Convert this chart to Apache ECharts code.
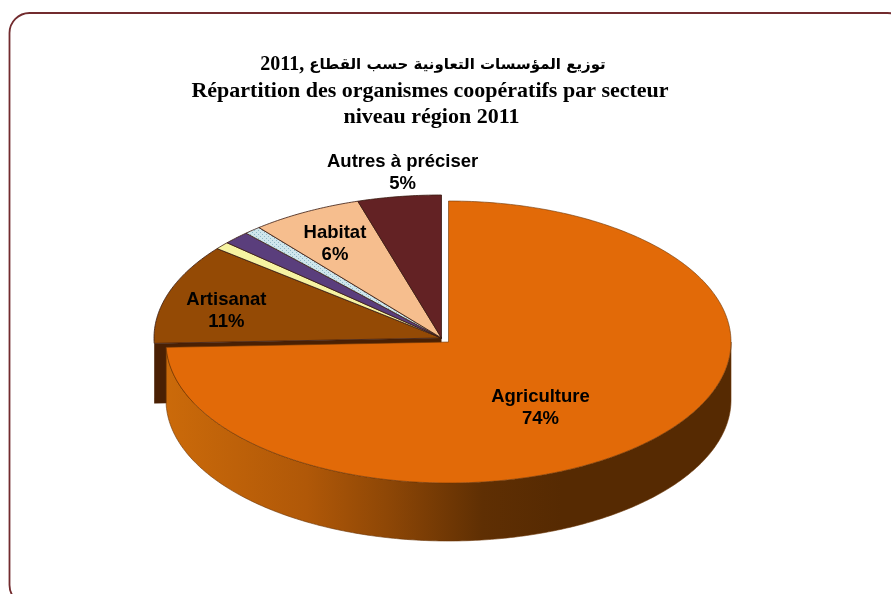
<!DOCTYPE html>
<html><head><meta charset="utf-8">
<style>html,body{margin:0;padding:0;background:#fff}#c{width:891px;height:594px}</style>
<script src="https://cdn.jsdelivr.net/npm/echarts@6/dist/echarts.min.js"></script>
</head><body><div id="c"></div>
<script>
// ---- data ----
const titleYear = '2011, ';
const titleArabic = 'توزيع المؤسسات التعاونية حسب القطاع';
const titleLine2 = 'Répartition des organismes coopératifs par secteur';
const titleLine3 = 'niveau région 2011';
const categories = ['Agriculture','Artisanat','Secteur 3','Secteur 4','Secteur 5','Habitat','Autres à préciser'];
const shares = [74.4,11.35,0.85,1.5,0.95,6.25,4.7];
const shownLabels = ['74%','11%','','','','6%','5%'];
// ---- style ----
const colors = ['#E26A08','#944A05','#F6F3A2','#5A3E7C','#CFE6EC','#F6BE8E','#632224'];
const labelFractions = [[.452,.665],[.788,.625],null,null,null,[.785,.753],[.92,1.174]];
const MAIN = {cx:448.5,cy:342,rx:282.5,ry:141,depth:58};
const REST = {cx:441.5,cy:338,rx:287.5,ry:143,depth:60};
const total = shares.reduce((a,b)=>a+b,0);
const startAngle = i => shares.slice(0,i).reduce((a,b)=>a+b,0)/total*360;
const pt = (g,deg,dy=0) => { const t=deg*Math.PI/180; return [g.cx+g.rx*Math.sin(t), g.cy-g.ry*Math.cos(t)+dy]; };
const arc = (g,a,b,dy=0) => { const n=Math.max(2,Math.ceil(Math.abs(b-a)*1.5)), out=[]; for(let k=0;k<=n;k++) out.push(pt(g,a+(b-a)*k/n,dy)); return out; };
const dots = document.createElement('canvas'); dots.width=dots.height=4;
(function(){const x=dots.getContext('2d');x.fillStyle=colors[4];x.fillRect(0,0,4,4);x.fillStyle='#8FB7C6';x.fillRect(0,0,1,1);x.fillRect(2,2,1,1);})();

function renderItem(params,api){
  const i=api.value(1), a=startAngle(i), b=a+api.value(0)/total*360;
  const g=i===0?MAIN:REST, kids=[];
  if(i===0){
    const top=arc(g,90,b), bot=arc(g,90,b,g.depth).reverse();
    kids.push({type:'polygon',z2:5,shape:{points:top.concat(bot)},style:{
      fill:{type:'linear',global:true,x:g.cx-g.rx,y:0,x2:g.cx+g.rx,y2:0,colorStops:[
        {offset:0,color:'#CB6A0A'},{offset:.25,color:'#B05808'},{offset:.4,color:'#8C4606'},{offset:.56,color:'#5F2F03'},{offset:.7,color:'#562A02'},{offset:1,color:'#562A02'}]},
      stroke:'#6B3606',lineWidth:.6}});
  }
  if(i===1){
    const e=pt(g,a), c=[g.cx,g.cy];
    kids.push({type:'polygon',z2:1,shape:{points:[c,e,[e[0],e[1]+g.depth],[c[0],c[1]+g.depth]]},style:{fill:'#4A2003'}});
  }
  kids.push({type:'polygon',z2:i===0?6:2,shape:{points:[[g.cx,g.cy]].concat(arc(g,a,b))},style:{
    fill:i===4?{image:dots,repeat:'repeat'}:colors[i],stroke:i===0?'#6B3606':'#3A1A10',lineWidth:i===0?.6:.8}});
  const lf=labelFractions[i];
  if(lf){
    const t=(a+b)/2*Math.PI/180;
    const x=g.cx+g.rx*lf[0]*Math.sin(t), y=g.cy-g.ry*lf[1]*Math.cos(t)+1;
    kids.push({type:'text',z2:10,style:{x,y,text:categories[i]+'\n'+shownLabels[i],align:'center',verticalAlign:'middle',
      fill:'#000',font:'bold 18.5px "Liberation Sans", Arial, sans-serif',lineHeight:22}});
  }
  return {type:'group',children:kids};
}
const serif='"Liberation Serif","DejaVu Sans",serif';
const lineStyle={color:'#000',fontWeight:'bold',fontFamily:serif,fontSize:22};
const chart=echarts.init(document.getElementById('c'),null,{renderer:'canvas',width:891,height:594});
chart.setOption({
  animation:false,backgroundColor:'#fff',
  title:[
    {text:'{n|'+titleYear+'}{a|'+titleArabic+'}',left:433,top:55,textAlign:'center',padding:0,
     textStyle:{rich:{n:{fontWeight:'bold',fontFamily:serif,fontSize:20,color:'#000'},a:{fontWeight:'bold',fontFamily:'"DejaVu Sans"',fontSize:15,color:'#000'}}}},
    {text:titleLine2,left:430,top:80,textAlign:'center',padding:0,textStyle:lineStyle},
    {text:titleLine3,left:431.5,top:106,textAlign:'center',padding:0,textStyle:lineStyle}
  ],
  graphic:[{type:'rect',z:-1,shape:{x:9.5,y:13,width:898,height:592,r:20},style:{fill:'#fff',stroke:'#722B2E',lineWidth:1.8}}],
  series:[{type:'custom',coordinateSystem:'none',renderItem,silent:true,clip:false,
    data:shares.map((v,i)=>({name:categories[i],value:[v,i]}))}]
});
</script></body></html>
